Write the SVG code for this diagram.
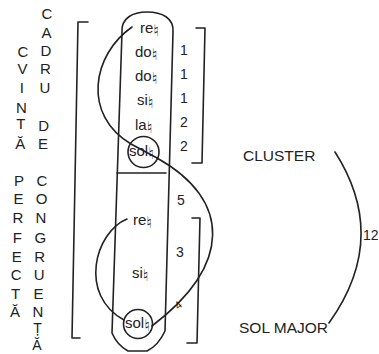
<svg xmlns="http://www.w3.org/2000/svg" width="379" height="354" viewBox="0 0 379 354">
<style>
.ln{fill:none;stroke:#222;stroke-width:1.6;stroke-linecap:round;stroke-linejoin:round}
.t{font-family:"Liberation Sans",Arial,sans-serif;fill:#222}
.L{font-size:15px;text-anchor:middle}
.n{font-size:15px}
.d{font-size:14px;text-anchor:middle}
.nat{font-family:"DejaVu Sans",sans-serif;font-size:16px}
.lab{font-size:15.5px}
</style>
<rect width="379" height="354" fill="#fff"/>

<g id="col-cvinta-perfecta" class="t L">
<text x="23" y="57">C</text>
<text x="22.5" y="74">V</text>
<text x="21.9" y="93">I</text>
<text x="21.3" y="113">N</text>
<text x="20.8" y="129">T</text>
<text x="20.2" y="149">Ă</text>
<text x="19" y="186">P</text>
<text x="18.5" y="204">E</text>
<text x="17.9" y="223">R</text>
<text x="17.3" y="243">F</text>
<text x="16.7" y="262">E</text>
<text x="16.1" y="280">C</text>
<text x="15.5" y="299">T</text>
<text x="15" y="317">Ă</text>
</g>

<g id="col-cadru-de-congruenta" class="t L">
<text x="47" y="19">C</text>
<text x="46.4" y="38">A</text>
<text x="45.9" y="56">D</text>
<text x="45.4" y="74">R</text>
<text x="44.8" y="93">U</text>
<text x="43.6" y="131">D</text>
<text x="43.1" y="149">E</text>
<text x="42" y="186">C</text>
<text x="41.5" y="204">O</text>
<text x="40.9" y="223">N</text>
<text x="40.3" y="243">G</text>
<text x="39.7" y="262">R</text>
<text x="39.2" y="280">U</text>
<text x="38.6" y="299">E</text>
<text x="38" y="317">N</text>
<text x="37.5" y="333" font-size="14">Ț</text>
<text x="37" y="350" font-size="14">Ă</text>
</g>

<g id="left-bracket">
<path class="ln" d="M88,22 L78,22 L72,338 L80,338"/>
</g>

<g id="capsule">
<path class="ln" d="M122,32 C121,18 133,12 147,12 C162,12 174,18 173,32 L165,331 Q158,346 147,351 L128,351 Q117,345 112,333 Z"/>
<path class="ln" d="M117,173 L166,173"/>
</g>

<g id="connectors">
<path class="ln" d="M132,27 C92,55 82,115 131,144 L157,158"/>
<path class="ln" d="M157,158 C232,200 232,265 152,326"/>
<path class="ln" d="M127,219 C95,232 78,295 124,320"/>
<path class="ln" d="M335,152 Q390,238 329,323"/>
</g>

<g id="brackets">
<path class="ln" d="M196,28 L205,28 L202,163 L192,163"/>
<path class="ln" d="M192,218 L200,218 L197,343 L187,343"/>
</g>

<g id="node-sol-top">
<circle class="ln" cx="143.5" cy="152" r="15.5" fill="#fff"/>
<text class="t n" x="129" y="156">sol<tspan class="nat" dy="3">♮</tspan></text>
</g>
<g id="node-sol-bottom">
<circle class="ln" cx="138" cy="324" r="14.5" fill="#fff"/>
<text class="t n" x="125" y="328">sol<tspan class="nat" dy="3">♮</tspan></text>
</g>

<g id="notes-top" class="t n">
<text x="140" y="33">re<tspan class="nat" dy="3">♮</tspan></text>
<text x="135" y="57">do<tspan class="nat" dy="3">♮</tspan></text>
<text x="135" y="81">do<tspan class="nat" dy="3">♮</tspan></text>
<text x="137" y="105">si<tspan class="nat" dy="3">♮</tspan></text>
<text x="135" y="130">la<tspan class="nat" dy="3">♮</tspan></text>
</g>
<g id="notes-bottom" class="t n">
<text x="133" y="225">re<tspan class="nat" dy="3">♮</tspan></text>
<text x="132" y="278">si<tspan class="nat" dy="3">♮</tspan></text>
</g>

<g id="intervals" class="t d">
<text x="184" y="55">1</text>
<text x="184" y="79">1</text>
<text x="184" y="103">1</text>
<text x="184" y="127">2</text>
<text x="184" y="151">2</text>
<text x="181" y="205">5</text>
<text x="180" y="257">3</text>
<text x="178" y="309" font-size="11" transform="rotate(-40 178 305)">4</text>
</g>

<g id="label-cluster"><text class="t lab" x="243" y="161">CLUSTER</text></g>
<g id="label-sol-major"><text class="t lab" x="239" y="333">SOL MAJOR</text></g>
<g id="label-12"><text class="t" font-size="14" x="363" y="240">12</text></g>
</svg>
